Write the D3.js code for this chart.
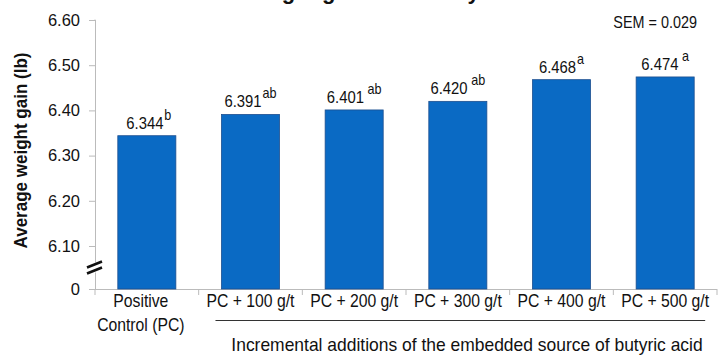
<!DOCTYPE html>
<html><head><meta charset="utf-8">
<script src="https://cdn.jsdelivr.net/npm/d3@7"></script>
<style>
body{margin:0;background:#fff;}
svg{display:block;}
text{font-family:"Liberation Sans",Arial,sans-serif;fill:#111;}
</style></head><body>
<svg id="c" width="721" height="358"></svg>
<script>
const categories = ["Positive\nControl (PC)","PC + 100 g/t","PC + 200 g/t","PC + 300 g/t","PC + 400 g/t","PC + 500 g/t"];
const values = [6.344, 6.391, 6.401, 6.420, 6.468, 6.474];
const letters = ["b","ab","ab","ab","a","a"];
const yTicks = [0, 6.10, 6.20, 6.30, 6.40, 6.50, 6.60];
const yTickLabels = ["0","6.10","6.20","6.30","6.40","6.50","6.60"];
const titleText = "Weight gain in nursery";
const semText = "SEM = 0.029";
const yTitle = "Average weight gain (lb)";
const groupLabel = "Incremental additions of the embedded source of butyric acid";

const svg = d3.select("#c");
const x0 = 95, x1 = 717;
const x = d3.scaleBand().domain(categories).range([x0, x1]).paddingInner(0.44).paddingOuter(0.22);
const xb = d3.scaleBand().domain(categories).range([x0, x1]);
const y = d3.scaleLinear().domain([0, 6.10, 6.60]).range([289, 246, 20]);

// narrow text helper
function nt(parent, px, py, size, sx, anchor) {
  const g = parent.append("g").attr("transform", `translate(${px},${py}) scale(${sx},1)`);
  return g.append("text").attr("x", 0).attr("y", 0).attr("font-size", size).attr("text-anchor", anchor || "middle");
}

// title (cropped at top)
svg.append("text").attr("x", 243).attr("y", -1).attr("font-size", 22).attr("font-weight", "bold").text(titleText);

// y axis
const gy = svg.append("g").attr("transform", `translate(${x0},0)`)
  .call(d3.axisLeft(y).tickValues(yTicks).tickFormat((d,i)=>yTickLabels[i]).tickSize(6).tickPadding(9));
gy.select(".domain").attr("stroke", "#bbb").attr("d", `M-0.5,${y(6.60)}H0.5V${y(0)}`);
gy.selectAll(".tick line").attr("stroke", "#bbb");
gy.selectAll(".tick text").attr("font-size", 16.5).attr("fill", "#222")
  .style("font-family", "'Liberation Sans',Arial,sans-serif");

// x axis
const gx = svg.append("g").attr("transform", `translate(0,${y(0)})`);
gx.append("line").attr("x1", x0).attr("x2", x1).attr("y1", 0.5).attr("y2", 0.5).attr("stroke", "#bbb");
gx.selectAll(".xt").data(categories.concat(["end"])).enter().append("line")
  .attr("x1", (d,i)=> i < categories.length ? xb(d) : x1).attr("x2", (d,i)=> i < categories.length ? xb(d) : x1)
  .attr("y1", 0).attr("y2", 6).attr("stroke", "#bbb");

// bars
svg.selectAll(".bar").data(values).enter().append("rect")
  .attr("x", (d,i)=>x(categories[i])).attr("width", x.bandwidth())
  .attr("y", d=>y(d)).attr("height", d=>y(0)-y(d))
  .attr("fill", "#0a6ac4").attr("stroke", "#1d4f8f").attr("stroke-width", 0.8);

// value labels
values.forEach((v,i)=>{
  const cx = x(categories[i]) + x.bandwidth()/2;
  const t = nt(svg, cx + (i===0?2:0), y(v) - 7, 16.5, 0.9, "middle");
  t.append("tspan").text(v.toFixed(3));
  t.append("tspan").attr("dy", -9).attr("dx", (i===2||i===3||i===5)?4:1).attr("font-size", 14).text(letters[i]);
});

// x tick labels
categories.forEach((c,i)=>{
  const parts = c.split("\n");
  const cx = xb(c) + xb.bandwidth()/2 - (i===0?6:0);
  const t = nt(svg, cx, 307, 17.5, 0.9, "middle");
  parts.forEach((p,j)=>t.append("tspan").attr("x", 0).attr("dy", j?24:0).text(p));
});

// group underline + label
svg.append("line").attr("x1", x(categories[1]) - 6).attr("x2", x(categories[5]) + x.bandwidth() + 11)
  .attr("y1", 320.5).attr("y2", 320.5).attr("stroke", "#333").attr("stroke-width", 1);
nt(svg, 467, 351, 18, 0.97, "middle").text(groupLabel);

// axis break
const bk = svg.append("g").attr("transform", `translate(${x0},${(y(0)+y(6.10))/2})`);
bk.append("rect").attr("x", -8).attr("y", -5).attr("width", 16).attr("height", 10).attr("fill", "#fff");
[-3, 3].forEach(o=>{
  bk.append("line").attr("x1", -8).attr("y1", o+3).attr("x2", 7).attr("y2", o-3)
    .attr("stroke", "#111").attr("stroke-width", 2.6);
});

// y title
svg.append("g").attr("transform", `translate(27,${(y(6.60)+y(0))/2 - 4}) rotate(-90) scale(0.92,1)`)
  .append("text").attr("text-anchor", "middle").attr("font-size", 18.5).attr("font-weight", "bold").text(yTitle);

// SEM
nt(svg, 697, 28, 16, 0.9, "end").text(semText);
</script>
</body></html>
